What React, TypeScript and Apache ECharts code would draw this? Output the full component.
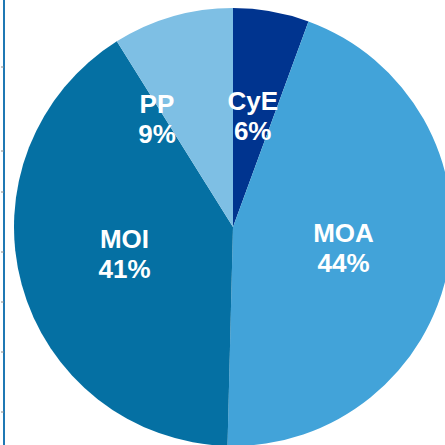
import React, { useEffect, useRef } from "react";
import * as echarts from "echarts";

const categories = ["CyE", "MOA", "MOI", "PP"];
const shares = [5.6, 44.8, 40.7, 8.9];
const shareLabels = ["6%", "44%", "41%", "9%"];
const sliceColors = ["#00348f", "#42a3d9", "#0570a3", "#7ebfe4"];
const axisTicksY = [67, 151, 192, 252, 302, 352, 412];

export default function App() {
  const ref = useRef<HTMLDivElement>(null);
  useEffect(() => {
    document.body.style.margin = "0";
    const chart = echarts.init(ref.current!, null, { renderer: "svg" });
    const data = categories.map((name, i) => {
      const item: any = {
        name,
        value: shares[i],
        itemStyle: { color: sliceColors[i] },
      };
      if (name === "PP") item.label = { offset: [-45, 0] };
      if (name === "MOI") item.label = { offset: [0, -3] };
      return item;
    });
    chart.setOption({
      animation: false,
      backgroundColor: "#ffffff",
      graphic: [
        {
          type: "line",
          shape: { x1: 4, y1: 0, x2: 4, y2: 445 },
          style: { stroke: "#1f78b4", lineWidth: 2 },
          z: 10,
        },
        ...axisTicksY.map((y) => ({
          type: "line",
          shape: { x1: 1, y1: y, x2: 4, y2: y },
          style: { stroke: "#8a8a8a", lineWidth: 1 },
          z: 10,
        })),
      ],
      series: [
        {
          type: "pie",
          center: [233, 227],
          radius: 219,
          startAngle: 90,
          clockwise: true,
          data,
          label: {
            show: true,
            position: "inside",
            color: "#ffffff",
            fontFamily: "Liberation Sans, Arial, sans-serif",
            fontWeight: "bold",
            fontSize: 26,
            lineHeight: 30,
            formatter: (p: any) => `${p.name}\n${shareLabels[p.dataIndex]}`,
          },
          labelLine: { show: false },
          emphasis: { disabled: true },
        },
      ],
    });
    return () => chart.dispose();
  }, []);
  return <div ref={ref} style={{ width: 445, height: 445 }} />;
}
